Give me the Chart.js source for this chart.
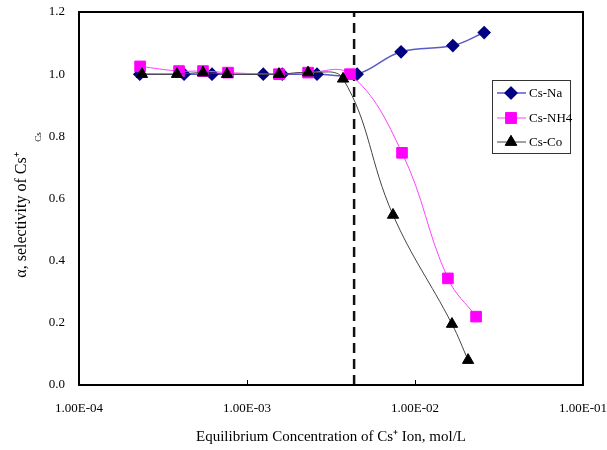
<!DOCTYPE html>
<html>
<head>
<meta charset="utf-8">
<script src="https://cdn.jsdelivr.net/npm/chart.js@4"></script>
<style>
  html, body { margin: 0; padding: 0; background: #fff; }
  #wrap { width: 607px; height: 450px; }
</style>
</head>
<body>
<div id="wrap"><canvas id="myChart" width="607" height="450"></canvas></div>
<script>
// values
const naConc = [2.30e-4, 4.22e-4, 6.19e-4, 1.25e-3, 1.62e-3, 2.61e-3, 4.52e-3, 8.26e-3, 1.68e-2, 2.58e-2]
const naSel = [1.00, 1.00, 1.00, 1.00, 1.00, 1.00, 1.00, 1.072, 1.092, 1.134]

const nh4Conc = [2.31e-4, 3.94e-4, 5.47e-4, 7.71e-4, 1.55e-3, 2.31e-3, 4.10e-3, 8.37e-3, 1.57e-2, 2.31e-2]
const nh4Sel = [1.025, 1.01, 1.01, 1.005, 1.00, 1.005, 1.00, 0.747, 0.343, 0.22]

const coConc = [2.37e-4, 3.83e-4, 5.47e-4, 7.60e-4, 1.55e-3, 2.31e-3, 3.73e-3, 7.40e-3, 1.66e-2, 2.07e-2]
const coSel = [1.00, 1.00, 1.005, 1.00, 1.00, 1.005, 0.985, 0.547, 0.196, 0.08]

const seriesNames = ['Cs-Na', 'Cs-NH4', 'Cs-Co']
const xTicks = [1e-4, 1e-3, 1e-2, 1e-1]
const dashX = 4.34e-3

const serif = "'Liberation Serif', 'Times New Roman', serif"

function toPoints(xs, ys) {
    return xs.map((x, i) => ({ x: x, y: ys[i] }))
}

function fmtExp(v) {
    let s = v.toExponential(2).toUpperCase()   // 1.00E-4
    return s.replace(/E([+-])(\d)$/, 'E$10$2')
}

function rotText(ctx, txt, x, y, font) {
    ctx.save()
    ctx.translate(x, y)
    ctx.rotate(-Math.PI / 2)
    ctx.fillStyle = '#000'
    ctx.font = font
    ctx.textAlign = 'center'
    ctx.textBaseline = 'middle'
    ctx.fillText(txt, 0, 0)
    ctx.restore()
}

// frame, inward ticks, y title, legend box
const decorPlugin = {
    id: 'decor',
    afterDraw(chart) {
        const ctx = chart.ctx
        const a = chart.chartArea
        const xs = chart.scales.x
        ctx.save()
        ctx.strokeStyle = '#000'
        ctx.lineWidth = 2
        ctx.strokeRect(a.left, a.top, a.right - a.left, a.bottom - a.top)
        ctx.lineWidth = 1
        xTicks.forEach(v => {
            let px = Math.round(xs.getPixelForValue(v)) + 0.5
            ctx.beginPath()
            ctx.moveTo(px, a.bottom)
            ctx.lineTo(px, a.bottom - 5)
            ctx.stroke()
        })

        // y title sits a bit below the middle, with the small "Cs" after it
        rotText(ctx, '\u03B1, selectivity of Cs\u207A', 22, 215, "16px " + serif)
        rotText(ctx, 'Cs', 39, 137, "9px " + serif)

        // legend
        const bx = 492, by = 80, bw = 78, bh = 73
        ctx.fillStyle = '#fff'
        ctx.fillRect(bx, by, bw, bh)
        ctx.strokeStyle = '#333'
        ctx.lineWidth = 1
        ctx.strokeRect(bx + 0.5, by + 0.5, bw, bh)
        const rowsY = [93, 118, 142]
        chart.data.datasets.slice(0, 3).forEach((ds, i) => {
            let y = rowsY[i]
            ctx.strokeStyle = ds.borderColor
            ctx.lineWidth = ds.borderWidth
            ctx.beginPath()
            ctx.moveTo(497, y)
            ctx.lineTo(526, y)
            ctx.stroke()
            Chart.helpers.drawPoint(ctx, {
                pointStyle: ds.pointStyle,
                radius: ds.pointRadius,
                rotation: 0,
                borderWidth: 1
            }, 511, y)
            ctx.fillStyle = ds.pointBackgroundColor
            ctx.strokeStyle = ds.pointBorderColor
            ctx.fill()
            ctx.stroke()
            ctx.fillStyle = '#000'
            ctx.font = "13px " + serif
            ctx.textAlign = 'left'
            ctx.textBaseline = 'middle'
            ctx.fillText(seriesNames[i], 529, y + 1)
        })
        ctx.restore()
    }
}

function BuildChart() {
    let ctx = document.getElementById('myChart')
    let chart = new Chart(ctx, {
        type: 'line',
        data: {
            datasets: [{
                label: seriesNames[0],
                data: toPoints(naConc, naSel),
                borderColor: '#5a5ac8',
                borderWidth: 1.5,
                pointStyle: 'rectRot',
                pointRadius: 5.8,
                pointBackgroundColor: '#000080',
                pointBorderColor: '#000080',
                tension: 0.4,
                order: 3
            }, {
                label: seriesNames[1],
                data: toPoints(nh4Conc, nh4Sel),
                borderColor: '#ff40ff',
                borderWidth: 1,
                pointStyle: 'rect',
                pointRadius: 7.5,
                pointBackgroundColor: '#ff00ff',
                pointBorderColor: '#ff00ff',
                tension: 0.4,
                order: 2
            }, {
                label: seriesNames[2],
                data: toPoints(coConc, coSel),
                borderColor: '#444',
                borderWidth: 1,
                pointStyle: 'triangle',
                pointRadius: 6.5,
                pointBackgroundColor: '#000',
                pointBorderColor: '#000',
                tension: 0.4,
                order: 1
            }, {
                label: 'limit',
                data: [{ x: dashX, y: 0 }, { x: dashX, y: 1.2 }],
                borderColor: '#111',
                borderWidth: 2.5,
                borderDash: [10, 6],
                pointRadius: 0,
                order: 4
            }]
        },
        options: {
            responsive: false,
            animation: false,
            layout: { padding: { top: 12, right: 24, left: 0, bottom: 0 } },
            plugins: {
                legend: { display: false },
                tooltip: { enabled: false }
            },
            scales: {
                x: {
                    type: 'logarithmic',
                    min: 1e-4,
                    max: 1e-1,
                    afterBuildTicks: s => { s.ticks = xTicks.map(v => ({ value: v })) },
                    afterFit: s => {
                        s.height = 65
                        s.paddingLeft = 0
                        s.paddingRight = 0
                    },
                    grid: { display: false },
                    border: { display: false },
                    ticks: {
                        color: '#000',
                        font: { family: serif, size: 13 },
                        padding: 8,
                        maxRotation: 0,
                        autoSkip: false,
                        callback: v => fmtExp(v)
                    },
                    title: {
                        display: true,
                        text: 'Equilibrium Concentration of Cs\u207A Ion, mol/L',
                        color: '#000',
                        font: { family: serif, size: 15 },
                        padding: { top: 0, bottom: 4 }
                    }
                },
                y: {
                    min: 0,
                    max: 1.2,
                    afterFit: s => {
                        s.width = 79
                        s.paddingTop = 0
                        s.paddingBottom = 0
                    },
                    grid: { display: false },
                    border: { display: false },
                    ticks: {
                        stepSize: 0.2,
                        color: '#000',
                        font: { family: serif, size: 13 },
                        padding: 6,
                        callback: v => v.toFixed(1)
                    }
                }
            }
        },
        plugins: [decorPlugin]
    })
    return chart
}

BuildChart()
</script>
</body>
</html>
